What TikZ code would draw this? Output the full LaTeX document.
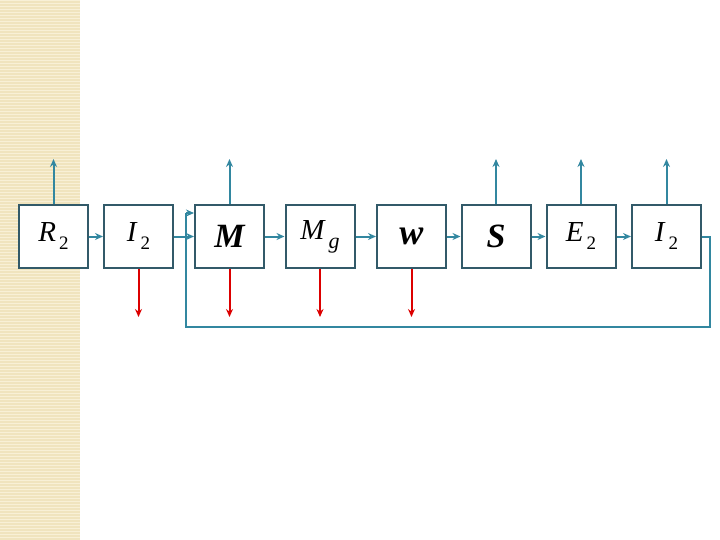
\documentclass[tikz,border=0pt]{standalone}
\usepackage{fontspec}
\setmainfont{Liberation Serif}
\usetikzlibrary{arrows.meta,calc}
\definecolor{boxc}{RGB}{50,90,105}
\definecolor{arrc}{RGB}{50,135,160}
\definecolor{redc}{RGB}{220,0,0}
\definecolor{bandc}{RGB}{240,228,190}
\definecolor{bandl}{RGB}{248,240,214}
\newcommand\lblsub[2]{\textit{#1}\kern3pt\raisebox{-8pt}{\fontsize{19}{19}\selectfont #2}}
\tikzset{
  blk/.style={draw=boxc,line width=2pt,minimum width=69pt,minimum height=63pt,inner sep=0pt,fill=white,font=\fontsize{29}{29}\selectfont},
  flow/.style={draw=arrc,line width=2pt,-{Stealth[length=8pt,width=7pt]}},
  loss/.style={draw=redc,line width=2pt,-{Stealth[length=8pt,width=7pt]}},
  fb/.style={draw=arrc,line width=2pt}
}
\begin{document}
\begin{tikzpicture}[x=1pt,y=-1pt]
\useasboundingbox (0,0) rectangle (720,540);
\fill[bandc] (0,0) rectangle (80,540);
\foreach \k in {0,3,...,537} {\fill[bandl] (0,\k) rectangle (80,\k+1);}
\node[blk] (R2) at (53.5,236.5) {\lblsub{R}{2}};
\node[blk] (I2) at (138.5,236.5) {\lblsub{I}{2}};
\node[blk] (M) at (229.5,236.5) {\raisebox{-4pt}{\fontsize{34}{34}\selectfont\bfseries\itshape M}};
\node[blk] (Mg) at (320,236.5) {\raisebox{3pt}{\textit{M}\kern3pt\raisebox{-9pt}{\fontsize{22}{22}\selectfont\itshape g}}};
\node[blk] (w) at (411.5,236.5) {\raisebox{-2pt}{\fontsize{36}{36}\selectfont\bfseries\itshape w}};
\node[blk] (S) at (496,236.5) {\fontsize{34}{34}\selectfont\bfseries\itshape S};
\node[blk] (E2) at (581,236.5) {\lblsub{E}{2}};
\node[blk] (I2b) at (666.5,236.5) {\lblsub{I}{2}};
\draw[flow] (R2) -- (I2);
\draw[flow] (I2) -- (M);
\draw[flow] (M) -- (Mg);
\draw[flow] (Mg) -- (w);
\draw[flow] (w) -- (S);
\draw[flow] (S) -- (E2);
\draw[flow] (E2) -- (I2b);
\foreach \n in {R2,M,S,E2,I2b} {
  \coordinate (up\n) at ($(\n.north)+(0,-45)$);
  \draw[flow] (\n.north) -- (up\n);
}
\foreach \n in {I2,M,Mg,w} {
  \coordinate (dn\n) at ($(\n.south)+(0,48)$);
  \draw[loss] (\n.south) -- (dn\n);
}
\coordinate (fbA) at (710,327);
\coordinate (fbB) at (186,213);
\draw[fb] (I2b.east) -| (fbA) -| (fbB);
\draw[flow] (fbB) -- (M.west |- fbB);
\end{tikzpicture}
\end{document}
